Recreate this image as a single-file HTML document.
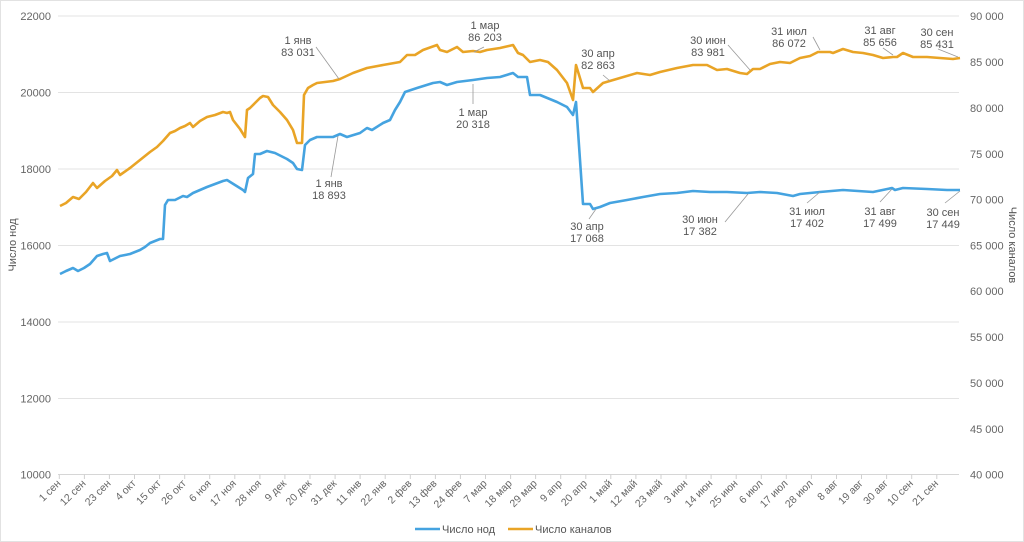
<!DOCTYPE html>
<html><head><meta charset="utf-8">
<style>
html,body{margin:0;padding:0;background:#fff;}
svg{display:block;}
text{font-family:"Liberation Sans","DejaVu Sans",sans-serif;}
</style></head>
<body>
<svg width="1024" height="542" viewBox="0 0 1024 542" xmlns="http://www.w3.org/2000/svg">
<rect x="0.5" y="0.5" width="1023" height="541" fill="#fff" stroke="#e2e2e2"/>
<g stroke="#e3e3e3" stroke-width="1">
<line x1="58" y1="16" x2="959" y2="16"/>
<line x1="58" y1="92.5" x2="959" y2="92.5"/>
<line x1="58" y1="169" x2="959" y2="169"/>
<line x1="58" y1="245.5" x2="959" y2="245.5"/>
<line x1="58" y1="322" x2="959" y2="322"/>
<line x1="58" y1="398.5" x2="959" y2="398.5"/>
<line x1="58" y1="474.5" x2="959" y2="474.5" stroke="#d6d6d6"/>
</g>
<g font-size="11" fill="#666" text-anchor="end">
<text x="51" y="20">22000</text>
<text x="51" y="96.5">20000</text>
<text x="51" y="173">18000</text>
<text x="51" y="249.5">16000</text>
<text x="51" y="326">14000</text>
<text x="51" y="402.5">12000</text>
<text x="51" y="478.5">10000</text>
</g>
<g font-size="11" fill="#666">
<text x="970" y="20">90 000</text>
<text x="970" y="66">85 000</text>
<text x="970" y="112">80 000</text>
<text x="970" y="158">75 000</text>
<text x="970" y="203.5">70 000</text>
<text x="970" y="249.5">65 000</text>
<text x="970" y="295">60 000</text>
<text x="970" y="341">55 000</text>
<text x="970" y="387">50 000</text>
<text x="970" y="433">45 000</text>
<text x="970" y="478.5">40 000</text>
</g>
<text transform="translate(16,245) rotate(-90)" font-size="11" fill="#555" text-anchor="middle">Число нод</text>
<text transform="translate(1009,245) rotate(90)" font-size="11" fill="#555" text-anchor="middle">Число каналов</text>
<g stroke="#d0d0d0" stroke-width="1">
<line x1="59.3" y1="474.5" x2="59.3" y2="479"/>
<line x1="84.4" y1="474.5" x2="84.4" y2="479"/>
<line x1="109.4" y1="474.5" x2="109.4" y2="479"/>
<line x1="134.5" y1="474.5" x2="134.5" y2="479"/>
<line x1="159.6" y1="474.5" x2="159.6" y2="479"/>
<line x1="184.7" y1="474.5" x2="184.7" y2="479"/>
<line x1="209.7" y1="474.5" x2="209.7" y2="479"/>
<line x1="234.8" y1="474.5" x2="234.8" y2="479"/>
<line x1="259.9" y1="474.5" x2="259.9" y2="479"/>
<line x1="284.9" y1="474.5" x2="284.9" y2="479"/>
<line x1="310" y1="474.5" x2="310" y2="479"/>
<line x1="335.1" y1="474.5" x2="335.1" y2="479"/>
<line x1="360.1" y1="474.5" x2="360.1" y2="479"/>
<line x1="385.2" y1="474.5" x2="385.2" y2="479"/>
<line x1="410.3" y1="474.5" x2="410.3" y2="479"/>
<line x1="435.4" y1="474.5" x2="435.4" y2="479"/>
<line x1="460.4" y1="474.5" x2="460.4" y2="479"/>
<line x1="485.5" y1="474.5" x2="485.5" y2="479"/>
<line x1="510.6" y1="474.5" x2="510.6" y2="479"/>
<line x1="535.6" y1="474.5" x2="535.6" y2="479"/>
<line x1="560.7" y1="474.5" x2="560.7" y2="479"/>
<line x1="585.8" y1="474.5" x2="585.8" y2="479"/>
<line x1="610.8" y1="474.5" x2="610.8" y2="479"/>
<line x1="635.9" y1="474.5" x2="635.9" y2="479"/>
<line x1="661" y1="474.5" x2="661" y2="479"/>
<line x1="686.1" y1="474.5" x2="686.1" y2="479"/>
<line x1="711.1" y1="474.5" x2="711.1" y2="479"/>
<line x1="736.2" y1="474.5" x2="736.2" y2="479"/>
<line x1="761.3" y1="474.5" x2="761.3" y2="479"/>
<line x1="786.3" y1="474.5" x2="786.3" y2="479"/>
<line x1="811.4" y1="474.5" x2="811.4" y2="479"/>
<line x1="836.5" y1="474.5" x2="836.5" y2="479"/>
<line x1="861.5" y1="474.5" x2="861.5" y2="479"/>
<line x1="886.6" y1="474.5" x2="886.6" y2="479"/>
<line x1="911.7" y1="474.5" x2="911.7" y2="479"/>
<line x1="936.8" y1="474.5" x2="936.8" y2="479"/>
</g>
<g font-size="10.5" fill="#666" text-anchor="end">
<text transform="translate(61.3,484) rotate(-45)">1 сен</text>
<text transform="translate(86.4,484) rotate(-45)">12 сен</text>
<text transform="translate(111.4,484) rotate(-45)">23 сен</text>
<text transform="translate(136.5,484) rotate(-45)">4 окт</text>
<text transform="translate(161.6,484) rotate(-45)">15 окт</text>
<text transform="translate(186.7,484) rotate(-45)">26 окт</text>
<text transform="translate(211.7,484) rotate(-45)">6 ноя</text>
<text transform="translate(236.8,484) rotate(-45)">17 ноя</text>
<text transform="translate(261.9,484) rotate(-45)">28 ноя</text>
<text transform="translate(286.9,484) rotate(-45)">9 дек</text>
<text transform="translate(312,484) rotate(-45)">20 дек</text>
<text transform="translate(337.1,484) rotate(-45)">31 дек</text>
<text transform="translate(362.1,484) rotate(-45)">11 янв</text>
<text transform="translate(387.2,484) rotate(-45)">22 янв</text>
<text transform="translate(412.3,484) rotate(-45)">2 фев</text>
<text transform="translate(437.4,484) rotate(-45)">13 фев</text>
<text transform="translate(462.4,484) rotate(-45)">24 фев</text>
<text transform="translate(487.5,484) rotate(-45)">7 мар</text>
<text transform="translate(512.6,484) rotate(-45)">18 мар</text>
<text transform="translate(537.6,484) rotate(-45)">29 мар</text>
<text transform="translate(562.7,484) rotate(-45)">9 апр</text>
<text transform="translate(587.8,484) rotate(-45)">20 апр</text>
<text transform="translate(612.8,484) rotate(-45)">1 май</text>
<text transform="translate(637.9,484) rotate(-45)">12 май</text>
<text transform="translate(663,484) rotate(-45)">23 май</text>
<text transform="translate(688.1,484) rotate(-45)">3 июн</text>
<text transform="translate(713.1,484) rotate(-45)">14 июн</text>
<text transform="translate(738.2,484) rotate(-45)">25 июн</text>
<text transform="translate(763.3,484) rotate(-45)">6 июл</text>
<text transform="translate(788.3,484) rotate(-45)">17 июл</text>
<text transform="translate(813.4,484) rotate(-45)">28 июл</text>
<text transform="translate(838.5,484) rotate(-45)">8 авг</text>
<text transform="translate(863.5,484) rotate(-45)">19 авг</text>
<text transform="translate(888.6,484) rotate(-45)">30 авг</text>
<text transform="translate(913.7,484) rotate(-45)">10 сен</text>
<text transform="translate(938.8,484) rotate(-45)">21 сен</text>
</g>
<polyline fill="none" stroke="#e9a426" stroke-width="2.6" stroke-linejoin="round" points="60,206 66,203 73,197 79,199 86,192 93,183 97,188 105,181 112,176 117,170 120,175 130,168 140,160 150,152 157,147 163,141 170,133 175,131 180,128 185,126 190,123 193,127 200,121 207,117 215,115 223,112 227,113 230,112 233,120 240,129 245,137 247,110 250,108 255,103 260,98 263,96 268,97 273,105 280,112 287,120 293,130 297,143 302,143 304,95 308,88 313,85 317,83 333,81 340,79 353,73 367,68 383,65 400,62 407,55 415,55 423,50 437,45 440,50 447,52 457,47 463,52 473,51 480,52 487,50 500,48 513,45 518,53 523,55 530,62 540,60 548,62 557,70 567,83 573,100 576,65 583,88 590,88 593,92 603,83 620,78 637,73 650,75 660,72 677,68 693,65 707,65 717,70 727,69 740,73 747,74 753,69 760,69 770,64 780,62 790,63 800,58 810,56 818,52 830,52 833,53 843,49 853,52 863,53 873,55 883,58 893,57 897,57 903,53 913,57 927,57 940,58 953,59 960,58"/>
<polyline fill="none" stroke="#45a3e0" stroke-width="2.6" stroke-linejoin="round" points="60,274 66,271 73,268 78,271 84,268 90,264 97,256 103,254 107,253 110,261 116,258 120,256 130,254 140,250 145,247 150,243 155,241 160,239 163,239 165,205 168,200 175,200 183,196 187,197 193,193 200,190 207,187 215,184 223,181 227,180 235,185 243,190 245,192 248,178 253,174 255,154 260,154 267,151 275,153 287,159 293,163 297,169 302,170 305,145 310,140 317,137 333,137 340,134 347,137 360,133 367,128 372,130 383,123 390,120 395,110 400,102 405,92 417,88 433,83 440,82 447,85 457,82 473,80 487,78 500,77 513,73 518,77 527,77 530,95 540,95 557,102 567,107 573,115 576,102 580,160 583,204 590,204 593,209 600,207 610,203 627,200 643,197 660,194 677,193 693,191 710,192 727,192 747,193 760,192 777,193 793,196 800,194 810,193 820,192 843,190 873,192 892,188 895,190 903,188 927,189 947,190 960,190"/>
<g stroke="#999" stroke-width="0.8" fill="none">
<line x1="316" y1="47" x2="339" y2="79"/>
<line x1="331" y1="177" x2="338" y2="136"/>
<line x1="474" y1="52" x2="484" y2="47"/>
<line x1="473" y1="84" x2="473" y2="104"/>
<line x1="603" y1="75" x2="610" y2="81"/>
<line x1="589" y1="219" x2="596" y2="209"/>
<line x1="728" y1="45" x2="750" y2="70"/>
<line x1="725" y1="222" x2="748" y2="194"/>
<line x1="813" y1="37" x2="820" y2="50"/>
<line x1="807" y1="203" x2="820" y2="192"/>
<line x1="883" y1="48" x2="893" y2="55"/>
<line x1="880" y1="202" x2="892" y2="189"/>
<line x1="938" y1="49" x2="958" y2="57"/>
<line x1="945" y1="203" x2="960" y2="191"/>
</g>
<g font-size="11" fill="#555" text-anchor="middle">
<text x="298" y="44">1 янв</text><text x="298" y="56">83 031</text>
<text x="329" y="187">1 янв</text><text x="329" y="199">18 893</text>
<text x="485" y="29">1 мар</text><text x="485" y="41">86 203</text>
<text x="473" y="116">1 мар</text><text x="473" y="128">20 318</text>
<text x="598" y="57">30 апр</text><text x="598" y="69">82 863</text>
<text x="587" y="230">30 апр</text><text x="587" y="242">17 068</text>
<text x="708" y="44">30 июн</text><text x="708" y="56">83 981</text>
<text x="700" y="223">30 июн</text><text x="700" y="235">17 382</text>
<text x="789" y="35">31 июл</text><text x="789" y="47">86 072</text>
<text x="807" y="215">31 июл</text><text x="807" y="227">17 402</text>
<text x="880" y="34">31 авг</text><text x="880" y="46">85 656</text>
<text x="880" y="215">31 авг</text><text x="880" y="227">17 499</text>
<text x="937" y="36">30 сен</text><text x="937" y="48">85 431</text>
<text x="943" y="216">30 сен</text><text x="943" y="228">17 449</text>
</g>
<line x1="415" y1="529" x2="440" y2="529" stroke="#45a3e0" stroke-width="2.6"/>
<text x="442" y="533" font-size="11" fill="#555">Число нод</text>
<line x1="508" y1="529" x2="533" y2="529" stroke="#e9a426" stroke-width="2.6"/>
<text x="535" y="533" font-size="11" fill="#555">Число каналов</text>
</svg>
</body></html>
